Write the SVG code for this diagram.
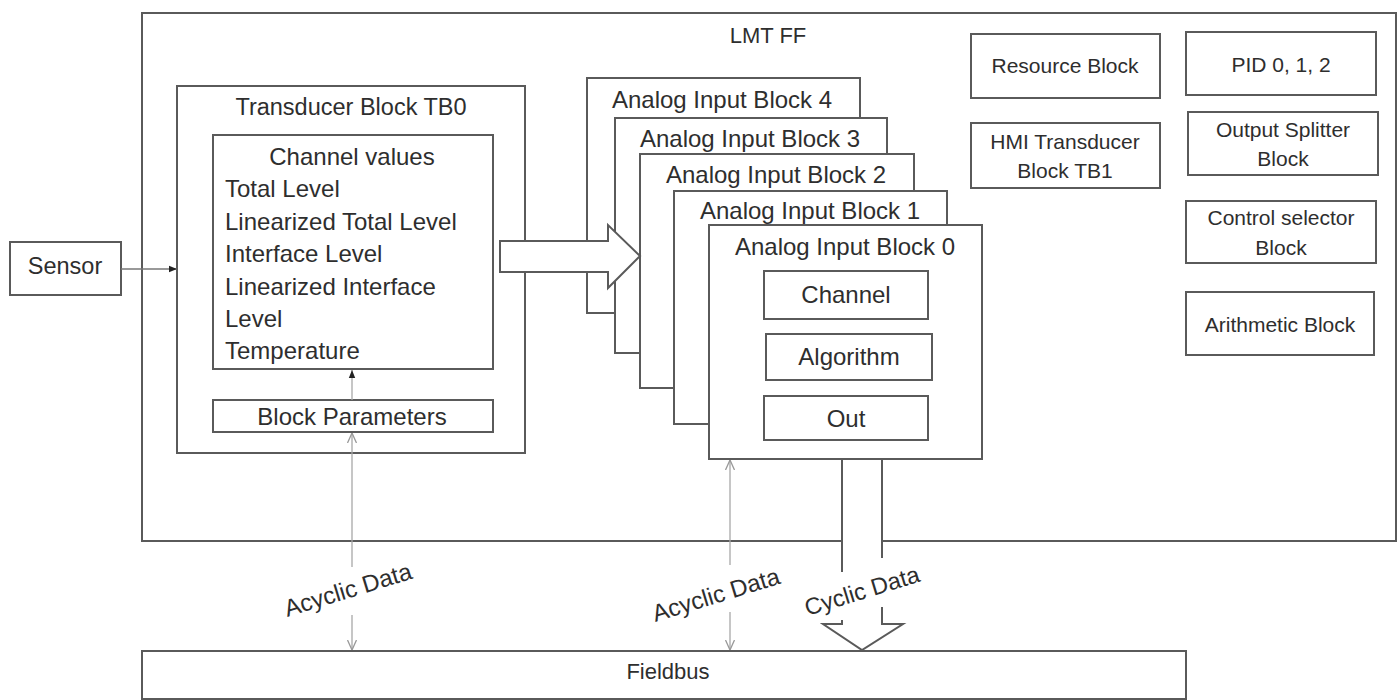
<svg xmlns="http://www.w3.org/2000/svg" width="1399" height="700" viewBox="0 0 1399 700">
<defs>
<style>
.box{fill:#fff;stroke:#5a5a5a;stroke-width:2}
.t{font-family:"Liberation Sans",Arial,sans-serif;fill:#2e2e2e}
.c{text-anchor:middle}
.s20{font-size:21px}
.s22{font-size:22px}
.s23{font-size:23.5px}
.s24{font-size:24px}
.thin{fill:none;stroke:#a8a8a8;stroke-width:1.3}
.dk{fill:none;stroke:#777;stroke-width:1.3}
.blk{fill:#fff;stroke:#5a5a5a;stroke-width:2;stroke-linejoin:miter}
</style>
<marker id="fa" viewBox="0 0 10 10" refX="10" refY="5" markerWidth="8" markerHeight="8" markerUnits="userSpaceOnUse" orient="auto"><path d="M0,1 L10,5 L0,9 z" fill="#222"/></marker>
<marker id="oa" viewBox="0 0 10 10" refX="10" refY="5" markerWidth="10" markerHeight="10" markerUnits="userSpaceOnUse" orient="auto-start-reverse"><path d="M0,0.5 L10,5 L0,9.5" fill="none" stroke="#999" stroke-width="1.3"/></marker>
</defs>
<rect width="1399" height="700" fill="#fff"/>

<g id="lmt-ff">
<rect class="box" x="142" y="13" width="1254" height="528"/>
<text class="t c s22" x="768" y="43">LMT FF</text>
</g>

<g id="sensor">
<rect class="box" x="10" y="242" width="111" height="53"/>
<text class="t c s23" x="65" y="274">Sensor</text>
</g>

<g id="transducer-tb0">
<rect class="box" x="177" y="86" width="348" height="367"/>
<text class="t c s23" x="351" y="115">Transducer Block TB0</text>
</g>
<g id="channel-values">
<rect class="box" x="213" y="135" width="280" height="234"/>
<text class="t c s24" x="352" y="165">Channel values</text>
<text class="t s24" x="225" y="197">Total Level</text>
<text class="t s24" x="225" y="230">Linearized Total Level</text>
<text class="t s24" x="225" y="262">Interface Level</text>
<text class="t s24" x="225" y="295">Linearized Interface</text>
<text class="t s24" x="225" y="327">Level</text>
<text class="t s24" x="225" y="359">Temperature</text>
</g>
<g id="block-parameters">
<rect class="box" x="213" y="400" width="280" height="32"/>
<text class="t c s24" x="352" y="425">Block Parameters</text>
</g>

<g id="ai4">
<rect class="box" x="587" y="78" width="273" height="235"/>
<text class="t c s24" x="722" y="108">Analog Input Block 4</text>
</g>
<g id="ai3">
<rect class="box" x="615" y="118" width="272" height="235"/>
<text class="t c s24" x="750" y="147">Analog Input Block 3</text>
</g>
<g id="ai2">
<rect class="box" x="640" y="154" width="274" height="234"/>
<text class="t c s24" x="776" y="183">Analog Input Block 2</text>
</g>
<g id="ai1">
<rect class="box" x="674" y="191" width="273" height="233"/>
<text class="t c s24" x="810" y="219">Analog Input Block 1</text>
</g>
<g id="ai0">
<rect class="box" x="709" y="225" width="273" height="234"/>
<text class="t c s24" x="845" y="255">Analog Input Block 0</text>
</g>
<g id="ai0-channel">
<rect class="box" x="764" y="271" width="164" height="48"/>
<text class="t c s24" x="846" y="303">Channel</text>
</g>
<g id="ai0-algorithm">
<rect class="box" x="766" y="334" width="166" height="46"/>
<text class="t c s24" x="849" y="365">Algorithm</text>
</g>
<g id="ai0-out">
<rect class="box" x="764" y="396" width="164" height="44"/>
<text class="t c s24" x="846" y="427">Out</text>
</g>

<g id="resource-block">
<rect class="box" x="971" y="34" width="189" height="64"/>
<text class="t c s20" x="1065" y="73">Resource Block</text>
</g>
<g id="hmi-transducer">
<rect class="box" x="971" y="123" width="189" height="65"/>
<text class="t c s20" x="1065" y="149">HMI Transducer</text>
<text class="t c s20" x="1065" y="178">Block TB1</text>
</g>
<g id="pid">
<rect class="box" x="1186" y="32" width="190" height="63"/>
<text class="t c s20" x="1281" y="72">PID 0, 1, 2</text>
</g>
<g id="output-splitter">
<rect class="box" x="1188" y="112" width="190" height="63"/>
<text class="t c s20" x="1283" y="137">Output Splitter</text>
<text class="t c s20" x="1283" y="166">Block</text>
</g>
<g id="control-selector">
<rect class="box" x="1186" y="201" width="190" height="62"/>
<text class="t c s20" x="1281" y="225">Control selector</text>
<text class="t c s20" x="1281" y="255">Block</text>
</g>
<g id="arithmetic">
<rect class="box" x="1186" y="292" width="188" height="63"/>
<text class="t c s20" x="1280" y="332">Arithmetic Block</text>
</g>

<g id="fieldbus">
<rect class="box" x="142" y="651" width="1044" height="48"/>
<text class="t c s22" x="668" y="679">Fieldbus</text>
</g>

<g id="connectors">
<path class="dk" d="M121,269 H177" marker-end="url(#fa)"/>
<path class="thin" d="M352,400 V370" marker-end="url(#fa)"/>
<polygon class="blk" points="500,241 608,241 608,225 640,256 608,288 608,272 500,272"/>
<path class="thin" d="M352,433 V567" marker-start="url(#oa)"/>
<path class="thin" d="M352,615 V650" marker-end="url(#oa)"/>
<path class="thin" d="M730,460 V565" marker-start="url(#oa)"/>
<path class="thin" d="M730,612 V650" marker-end="url(#oa)"/>
<polygon points="842,459 882,459 882,624 903,624 862,650 823,624 842,624" fill="#fff" stroke="none"/>
<path d="M842,459 H882 M842,459 V572 M842,620 V624 H823 L862,650 L903,624 H882 V607 M882,558 V459" fill="none" stroke="#5a5a5a" stroke-width="2"/>
</g>

<g id="labels">
<text class="t c s24" x="348" y="598" transform="rotate(-17 348 590)">Acyclic Data</text>
<text class="t c s24" x="716" y="603" transform="rotate(-17 716 595)">Acyclic Data</text>
<text class="t c s23" x="862" y="599" transform="rotate(-17 862 591)">Cyclic Data</text>
</g>
</svg>
